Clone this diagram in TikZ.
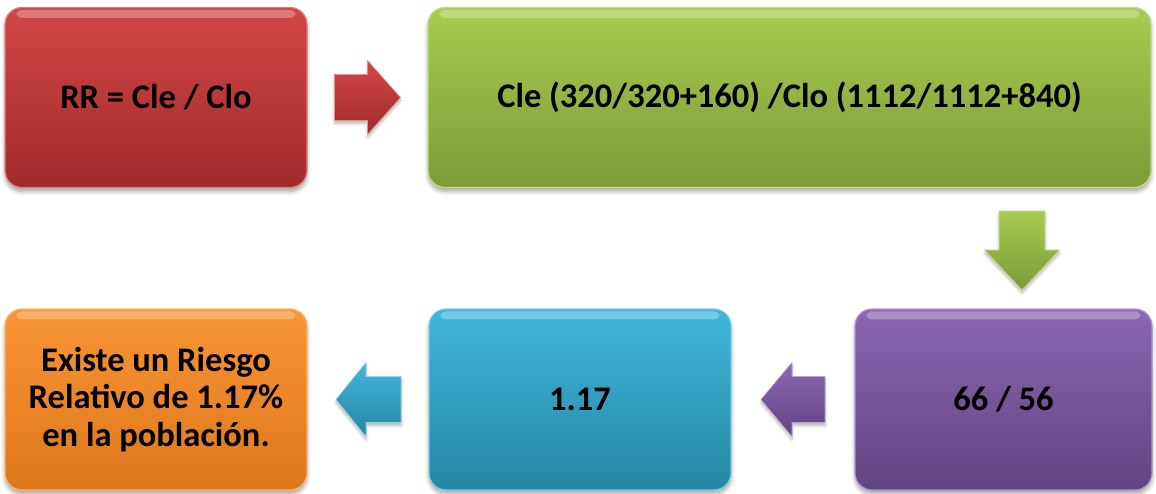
\documentclass[tikz,border=0pt]{standalone}
\usepackage{fontspec}
\setmainfont{Carlito}
\usetikzlibrary{calc,shadows.blur}
\definecolor{redT}{HTML}{D34646}\definecolor{redB}{HTML}{A02B2B}
\definecolor{grnT}{HTML}{A8CB50}\definecolor{grnB}{HTML}{7E9A38}
\definecolor{purT}{HTML}{8A68B2}\definecolor{purB}{HTML}{5F4482}
\definecolor{cyaT}{HTML}{3FB6DA}\definecolor{cyaB}{HTML}{2787A4}
\definecolor{oraT}{HTML}{FA9535}\definecolor{oraB}{HTML}{DD771C}
\tikzset{
  box/.style n args={2}{rounded corners=17pt, top color=#1, bottom color=#2,
    draw=#1!70!white, line width=1.2pt, inner sep=0pt, align=center,
    font=\fontsize{34.5}{37.5}\selectfont\bfseries,
    blur shadow={shadow xshift=0pt, shadow yshift=-4pt, shadow blur steps=6, shadow blur radius=4pt, shadow opacity=35}},
  shine/.style={fill=white, fill opacity=0.28, rounded corners=5pt, draw=none},
  blockarrow/.style n args={2}{top color=#1, bottom color=#2, draw=#1!60!white, line width=0.6pt,
    blur shadow={shadow xshift=0pt, shadow yshift=-3pt, shadow blur steps=5, shadow blur radius=3pt, shadow opacity=30}}
}
\newcommand{\boxshine}[1]{%
  \fill[shine] ($(#1.north west)+(12,3)$) rectangle ($(#1.north east)+(-12,11)$);}
\begin{document}
\begin{tikzpicture}[x=1pt,y=-1pt]
\useasboundingbox (0,0) rectangle (1156,494);
% boxes
\node[box={redT}{redB}, minimum width=302pt, minimum height=180pt] (rr) at (156,97.5) {RR = Cle / Clo};
\node[box={grnT}{grnB}, minimum width=723pt, minimum height=180pt] (cle) at (789.5,97.5) {Cle (320/320+160) /Clo (1112/1112+840)};
\node[box={purT}{purB}, minimum width=297pt, minimum height=181pt] (ratio) at (1003.5,399.5) {66 / 56};
\node[box={cyaT}{cyaB}, minimum width=302pt, minimum height=181pt] (res) at (580,399.5) {1.17};
\node[box={oraT}{oraB}, minimum width=302pt, minimum height=181pt] (concl) at (156,399.5) {Existe un Riesgo\\Relativo de 1.17\%\\en la población.};
\boxshine{rr}\boxshine{cle}\boxshine{ratio}\boxshine{res}\boxshine{concl}
% block arrows between boxes
\coordinate (a1) at ($(rr.east)!0.5!(cle.west)$);
\coordinate (a2) at (1022,250);
\coordinate (a3) at ($(res.east)!0.5!(ratio.west)$);
\coordinate (a4) at ($(concl.east)!0.5!(res.west)$);
\draw[blockarrow={redT}{redB}, shift={(a1)}]
  (-33,-23) -- (0,-23) -- (0,-37) -- (33,0) -- (0,37) -- (0,23) -- (-33,23) -- cycle;
\draw[blockarrow={grnT}{grnB}, shift={(a2)}]
  (-23,-39) -- (23,-39) -- (23,0) -- (37.5,0) -- (0,40) -- (-37.5,0) -- (-23,0) -- cycle;
\draw[blockarrow={purT}{purB}, shift={(a3)}]
  (32,-23) -- (-1,-23) -- (-1,-37) -- (-32,0) -- (-1,37) -- (-1,23) -- (32,23) -- cycle;
\draw[blockarrow={cyaT}{cyaB}, shift={(a4)}]
  (33,-23) -- (-2,-23) -- (-2,-37) -- (-32,0) -- (-2,37) -- (-2,23) -- (33,23) -- cycle;
\end{tikzpicture}
\end{document}
